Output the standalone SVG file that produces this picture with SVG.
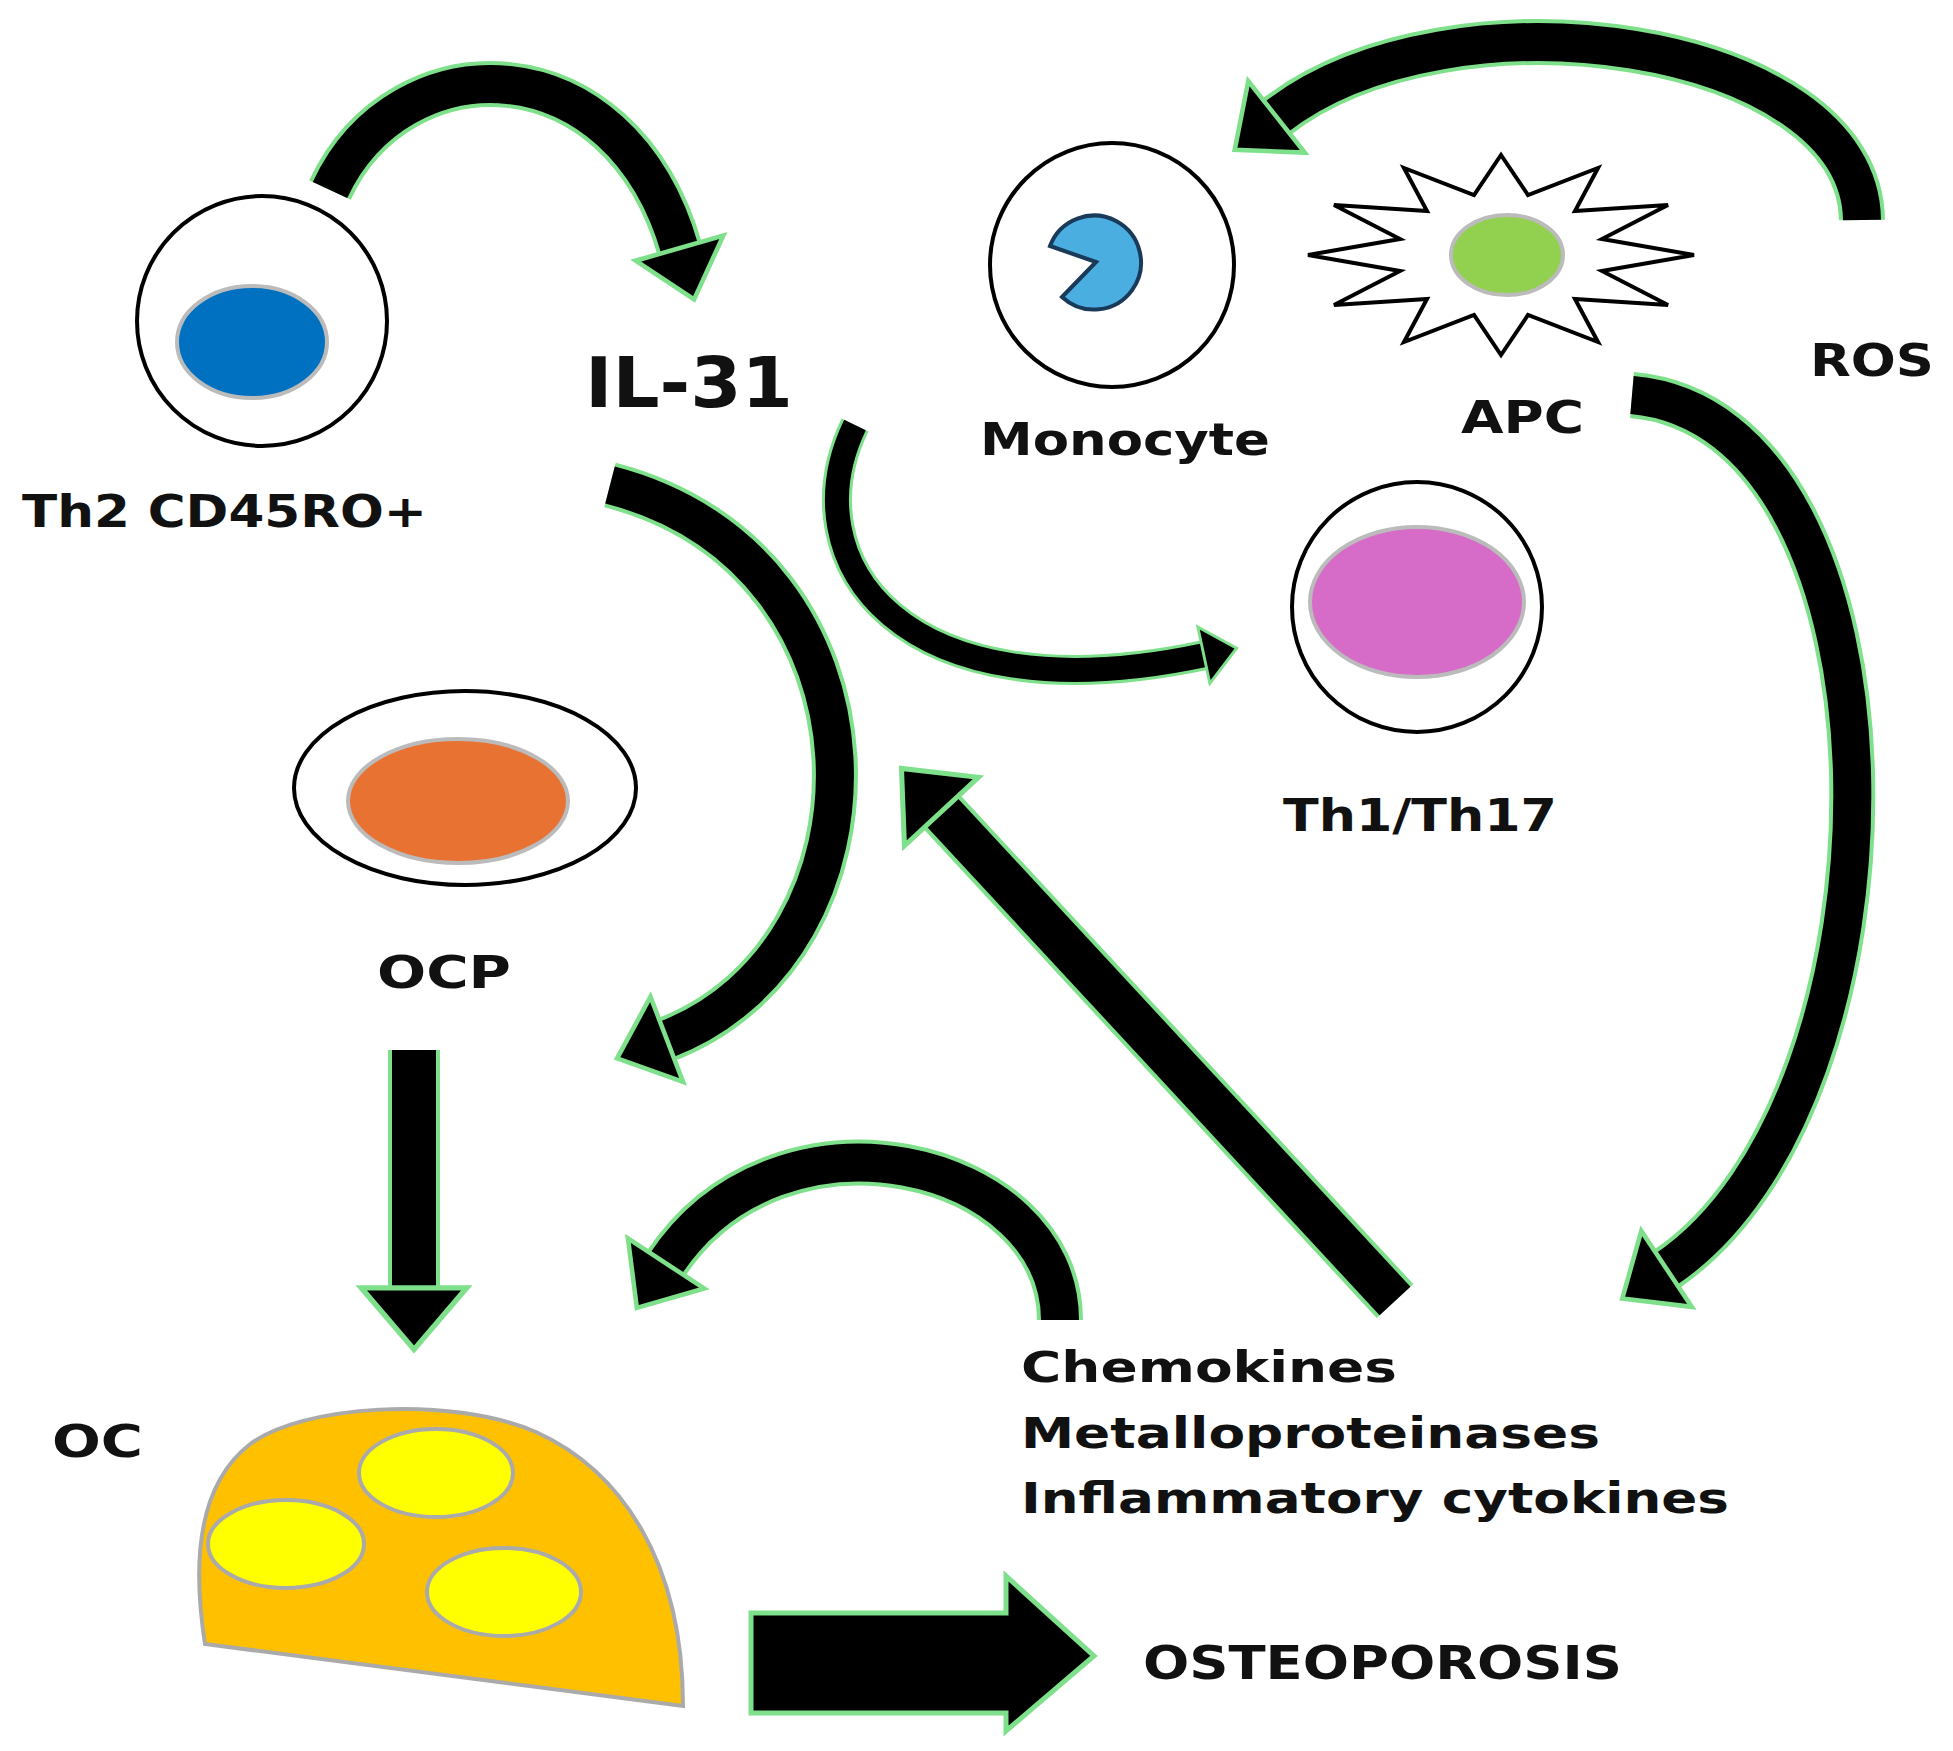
<svg xmlns="http://www.w3.org/2000/svg" width="1953" height="1751" viewBox="0 0 1953 1751">
<defs>
<marker id="ah" markerUnits="strokeWidth" viewBox="0 -1.6 1.8 3.2" refX="0.05" refY="0" markerWidth="1.8" markerHeight="3.2" orient="auto" overflow="visible">
<path d="M0,-1.2 L1.4,0 L0,1.2 Z" fill="#000" stroke="#7ee08a" stroke-width="0.12" stroke-linejoin="miter"/>
</marker>
<style>
.g{fill:none;stroke:#7ee08a;stroke-linecap:butt}
.b{fill:none;stroke:#000;stroke-linecap:butt}
.t{font-family:"DejaVu Sans",sans-serif;font-weight:bold;fill:#111}
.cell{fill:#fff;stroke:#000;stroke-width:4}
.nuc{stroke:#bbb;stroke-width:4}
</style>
</defs>
<rect width="1953" height="1751" fill="#fff"/>
<g id="connectors">
<path class="g" stroke-width="46" d="M330 190 C400 40,620 40,680 250"/>
<path class="b" stroke-width="38" marker-end="url(#ah)" d="M330 190 C400 40,620 40,680 250"/>
<path class="g" stroke-width="46" d="M610 485 C900 560,900 950,665 1040"/>
<path class="b" stroke-width="38" marker-end="url(#ah)" d="M610 485 C900 560,900 950,665 1040"/>
<path class="g" stroke-width="30" d="M855 425 C790 560,900 720,1205 655"/>
<path class="b" stroke-width="24" marker-end="url(#ah)" d="M855 425 C790 560,900 720,1205 655"/>
<path class="g" stroke-width="46" d="M1862 220 C1860 40,1450 -20,1275 118"/>
<path class="b" stroke-width="38" marker-end="url(#ah)" d="M1862 220 C1860 40,1450 -20,1275 118"/>
<path class="g" stroke-width="46" d="M1632 395 C1920 420,1920 1100,1665 1270"/>
<path class="b" stroke-width="38" marker-end="url(#ah)" d="M1632 395 C1920 420,1920 1100,1665 1270"/>
<path class="g" stroke-width="46" d="M1060 1320 C1060 1160,780 1090,665 1265"/>
<path class="b" stroke-width="38" marker-end="url(#ah)" d="M1060 1320 C1060 1160,780 1090,665 1265"/>
<path class="g" stroke-width="50" d="M1395 1301 L940 810"/>
<path class="b" stroke-width="42" marker-end="url(#ah)" d="M1395 1301 L940 810"/>
<path class="g" stroke-width="52" d="M414 1050 L414 1290"/>
<path class="b" stroke-width="44" marker-end="url(#ah)" d="M414 1050 L414 1290"/>
<polygon points="751,1613 1006,1613 1006,1576 1094,1656 1006,1731 1006,1713 751,1713" fill="#000" stroke="#7ee08a" stroke-width="5"/>
</g>
<g id="th2">
<circle class="cell" cx="262" cy="321" r="125"/>
<ellipse class="nuc" cx="252" cy="342" rx="75" ry="56" fill="#0070c0"/>
<text class="t" x="22" y="527" font-size="44" textLength="405" lengthAdjust="spacingAndGlyphs">Th2 CD45RO+</text>
</g>
<g id="il31"><text class="t" x="585" y="407" font-size="70" textLength="208" lengthAdjust="spacingAndGlyphs">IL-31</text></g>
<g id="monocyte">
<circle class="cell" cx="1112" cy="265" r="122"/>
<path d="M1096 262 L1050 246 A47 47 0 1 1 1062 297 Z" fill="#4aaee0" stroke="#1a3a5a" stroke-width="4"/>
<text class="t" x="980" y="455" font-size="44" textLength="290" lengthAdjust="spacingAndGlyphs">Monocyte</text>
</g>
<g id="apc">
<polygon points="1694,255 1602,271 1668,305 1575,299 1598,342 1528,315 1501,355 1474,315 1404,342 1427,299 1334,305 1400,271 1308,255 1400,239 1334,205 1427,211 1404,168 1474,195 1501,155 1528,195 1598,168 1575,211 1668,205 1602,239" fill="#fff" stroke="#000" stroke-width="4"/>
<ellipse class="nuc" cx="1507" cy="255" rx="56" ry="40" fill="#92d050"/>
<text class="t" x="1461" y="433" font-size="44" textLength="123" lengthAdjust="spacingAndGlyphs">APC</text>
</g>
<g id="ros"><text class="t" x="1810" y="376" font-size="44" textLength="124" lengthAdjust="spacingAndGlyphs">ROS</text></g>
<g id="th1th17">
<circle class="cell" cx="1417" cy="607" r="125"/>
<ellipse class="nuc" cx="1417" cy="602" rx="107" ry="75" fill="#d66bc8"/>
<text class="t" x="1283" y="831" font-size="44" textLength="274" lengthAdjust="spacingAndGlyphs">Th1/Th17</text>
</g>
<g id="ocp">
<ellipse class="cell" cx="465" cy="788" rx="171" ry="97"/>
<ellipse class="nuc" cx="458" cy="801" rx="110" ry="62" fill="#e87232"/>
<text class="t" x="377" y="988" font-size="44" textLength="134" lengthAdjust="spacingAndGlyphs">OCP</text>
</g>
<g id="oc">
<path d="M205 1644 C195 1580,192 1490,249 1445 C300 1405,450 1395,536 1432 C620 1470,683 1560,683 1706 Z" fill="#ffc000" stroke="#aaa" stroke-width="4"/>
<ellipse cx="436" cy="1473" rx="77" ry="44" fill="#ffff00" stroke="#aaa" stroke-width="4"/>
<ellipse cx="286" cy="1544" rx="78" ry="44" fill="#ffff00" stroke="#aaa" stroke-width="4"/>
<ellipse cx="504" cy="1592" rx="77" ry="44" fill="#ffff00" stroke="#aaa" stroke-width="4"/>
<text class="t" x="52" y="1457" font-size="44" textLength="91" lengthAdjust="spacingAndGlyphs">OC</text>
</g>
<g id="mediators">
<text class="t" x="1021" y="1382" font-size="43" textLength="376" lengthAdjust="spacingAndGlyphs">Chemokines</text>
<text class="t" x="1021" y="1448" font-size="43" textLength="579" lengthAdjust="spacingAndGlyphs">Metalloproteinases</text>
<text class="t" x="1021" y="1513" font-size="43" textLength="708" lengthAdjust="spacingAndGlyphs">Inflammatory cytokines</text>
</g>
<g id="osteoporosis"><text class="t" x="1143" y="1679" font-size="46" textLength="479" lengthAdjust="spacingAndGlyphs">OSTEOPOROSIS</text></g>
</svg>
